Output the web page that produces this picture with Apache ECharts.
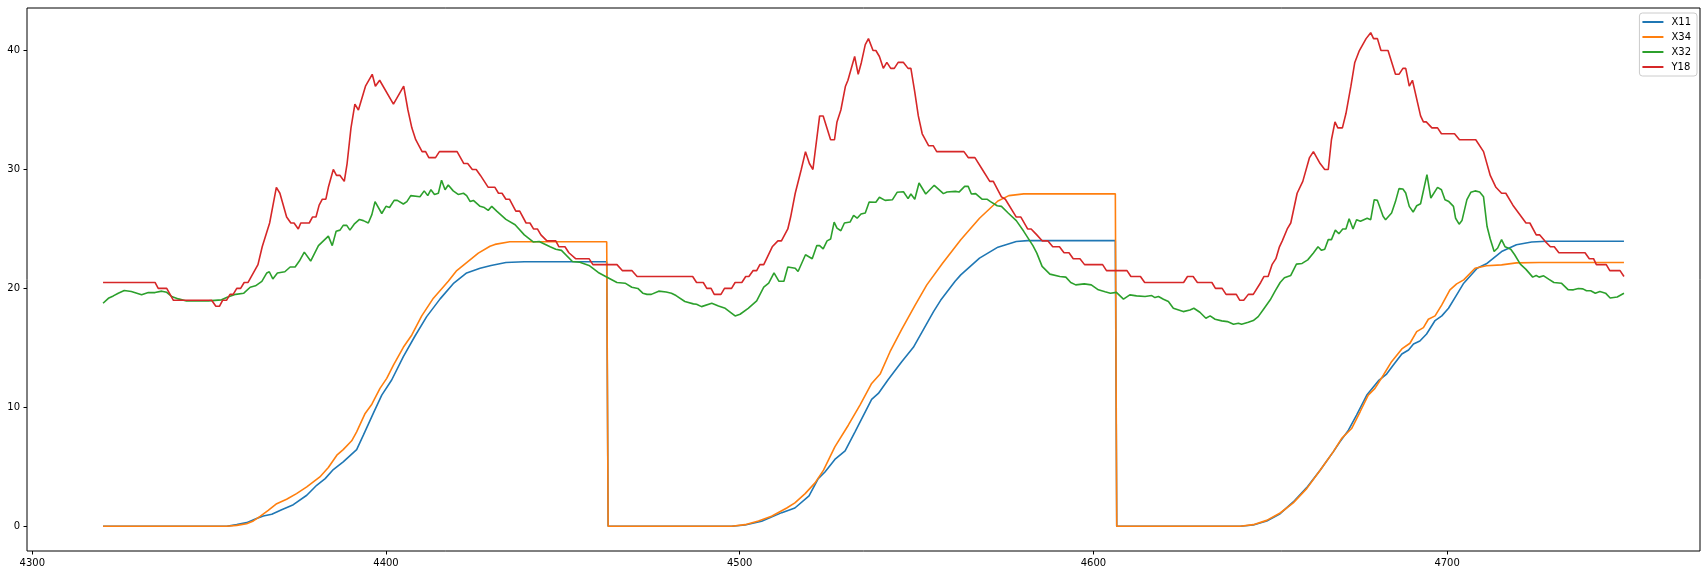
<!DOCTYPE html>
<html>
<head>
<meta charset="utf-8">
<script src="https://cdn.jsdelivr.net/npm/echarts@6/dist/echarts.min.js"></script>
<style>
html,body{margin:0;padding:0;background:#fff;}
#chart{width:1708px;height:575px;}
</style>
</head>
<body>
<div id="chart"></div>
<script>
const seriesNames = ['X11', 'X34', 'X32', 'Y18'];
const xTicks = [4300, 4400, 4500, 4600, 4700];
const yTicks = [0, 10, 20, 30, 40];

const x11 = [[4320,0],[4355,0],[4357.8,0.14],[4360.6,0.31],[4363.4,0.65],[4365.3,0.87],[4367.7,1.01],[4370.5,1.4],[4373.8,1.82],[4377.6,2.61],[4380.4,3.45],[4382.8,4.01],[4385.1,4.77],[4387.9,5.42],[4391.7,6.45],[4393.6,7.66],[4396.4,9.49],[4398.8,11.03],[4401.6,12.3],[4404.9,14.26],[4408.2,16.0],[4411.5,17.63],[4415.3,19.12],[4419,20.4],[4422.8,21.3],[4426.6,21.7],[4429.7,21.93],[4433.9,22.18],[4439.1,22.24],[4462.4,22.24],[4462.8,0],[4497.7,0],[4501.5,0.11],[4506.2,0.42],[4511.9,1.15],[4515.6,1.54],[4519.6,2.56],[4522.2,4.01],[4524.1,4.57],[4526.9,5.62],[4529.8,6.34],[4532.6,7.94],[4537.3,10.67],[4539.2,11.17],[4542,12.35],[4545.8,13.84],[4549.1,15.05],[4554.8,18.05],[4556.8,19.0],[4560.9,20.6],[4562.5,21.14],[4567.8,22.55],[4573,23.47],[4578.2,23.95],[4581.4,24.02],[4606.2,24.02],[4606.6,0],[4641.5,0],[4645.2,0.11],[4649,0.45],[4652.8,1.06],[4656.5,2.05],[4660.3,3.25],[4664.1,4.72],[4667.8,6.26],[4669.7,7.1],[4672.1,8.08],[4674.4,9.35],[4677.3,11.03],[4680.6,12.24],[4682.9,12.8],[4684.8,13.56],[4687.2,14.49],[4689.1,14.82],[4690.5,15.33],[4692.3,15.58],[4694.2,16.17],[4696.6,17.3],[4698.5,17.69],[4700.4,18.33],[4702.7,19.46],[4704.7,20.44],[4708.5,21.7],[4711.1,22.07],[4715.4,23.1],[4719.6,23.67],[4723.9,23.9],[4728.1,23.96],[4750,23.96]];

const x34 = [[4320,0],[4355,0],[4357.8,0.08],[4360.6,0.22],[4362.5,0.45],[4364.4,0.84],[4366.7,1.34],[4369.1,1.9],[4371.9,2.27],[4374.7,2.75],[4377.6,3.31],[4381.3,4.15],[4383.7,4.94],[4386.1,5.98],[4387.9,6.45],[4390.3,7.19],[4391.7,7.94],[4394.1,9.49],[4396,10.27],[4398.3,11.6],[4400.2,12.44],[4402.1,13.56],[4404.9,15.05],[4407.3,16.09],[4410.1,17.69],[4413.4,19.18],[4417.6,20.6],[4420,21.5],[4426.1,22.97],[4429.4,23.55],[4430.8,23.7],[4435,23.92],[4462.4,23.92],[4462.8,0],[4497.7,0],[4501.5,0.14],[4505.3,0.45],[4509,0.84],[4513.3,1.54],[4515.6,1.97],[4518.5,2.75],[4521.3,3.65],[4523.7,4.72],[4526.9,6.68],[4530.7,8.5],[4534,10.19],[4537.3,12.01],[4539.7,12.8],[4542.5,14.68],[4545.8,16.56],[4549.6,18.6],[4552.9,20.3],[4557.3,22.1],[4562.5,24.1],[4567.8,25.9],[4573,27.35],[4576.1,27.8],[4580.3,27.95],[4606.2,27.95],[4606.6,0],[4641.5,0],[4645.2,0.14],[4649,0.5],[4652.8,1.12],[4656.5,1.97],[4660.3,3.17],[4664.1,4.72],[4667.8,6.26],[4670.2,7.39],[4673,8.22],[4675.4,9.63],[4677.7,11.03],[4679.6,11.6],[4682,12.72],[4684.3,13.84],[4687.2,14.91],[4689.5,15.39],[4691.4,16.37],[4693.3,16.7],[4694.7,17.41],[4696.6,17.69],[4698.5,18.61],[4700.8,19.88],[4702.7,20.38],[4704.7,20.72],[4707.9,21.7],[4711.1,21.9],[4715.4,21.98],[4719.6,22.15],[4726,22.18],[4750,22.18]];

const x32 = [[4320,18.75],[4321.5,19.17],[4322.9,19.37],[4324.3,19.6],[4326,19.82],[4328,19.74],[4330.9,19.46],[4332.8,19.65],[4334.7,19.65],[4336.6,19.77],[4338,19.67],[4339.4,19.32],[4341.3,19.12],[4343.6,18.95],[4349.8,18.95],[4353.5,19.04],[4355.1,19.25],[4357.5,19.5],[4359.8,19.6],[4361.6,20.1],[4363.1,20.22],[4364.9,20.6],[4366.3,21.3],[4367,21.4],[4368,20.8],[4369.3,21.3],[4371.4,21.4],[4372.9,21.8],[4374.3,21.8],[4375.5,22.3],[4376.9,23.05],[4378.7,22.3],[4380.9,23.6],[4383.7,24.4],[4384.8,23.6],[4385.9,24.8],[4387,24.9],[4387.9,25.3],[4388.9,25.3],[4389.8,24.9],[4391,25.4],[4392.5,25.8],[4393.6,25.7],[4395,25.5],[4396,26.2],[4396.9,27.3],[4398.8,26.3],[4400,26.9],[4401,26.8],[4402.3,27.4],[4403.2,27.4],[4404.9,27.1],[4405.9,27.3],[4407,27.8],[4409.6,27.7],[4410.8,28.2],[4411.8,27.8],[4412.7,28.3],[4413.7,27.9],[4414.8,28.0],[4415.7,29.1],[4416.7,28.3],[4417.6,28.7],[4419,28.2],[4420.4,27.9],[4421.9,28.0],[4422.8,27.8],[4423.8,27.3],[4424.7,27.4],[4426.6,26.9],[4427.8,26.8],[4428.9,26.56],[4429.9,26.9],[4431.3,26.5],[4433.9,25.8],[4436.5,25.35],[4439.1,24.5],[4441.7,23.9],[4443.3,23.95],[4446.4,23.5],[4448,23.3],[4449.6,23.2],[4452.7,22.26],[4454.8,22.2],[4457.4,21.93],[4460,21.34],[4462.1,21.0],[4465.3,20.5],[4467.6,20.44],[4469.5,20.1],[4471.2,20.0],[4472.6,19.6],[4473.8,19.5],[4475,19.5],[4477.1,19.77],[4479.2,19.7],[4480.7,19.6],[4482,19.4],[4484.5,18.9],[4486.9,18.7],[4487.8,18.67],[4489.2,18.47],[4492.1,18.75],[4494,18.53],[4495.9,18.33],[4498.7,17.69],[4500.1,17.83],[4502.4,18.33],[4504.8,18.95],[4506.8,20.1],[4508.2,20.44],[4509.7,21.3],[4511.1,20.6],[4512.5,20.6],[4513.6,21.8],[4515.7,21.7],[4516.5,21.42],[4518.6,22.83],[4520.5,22.49],[4521.8,23.6],[4522.6,23.6],[4523.6,23.33],[4524.7,24.0],[4525.7,24.15],[4526.7,25.58],[4527.5,25.07],[4528.6,24.85],[4529.6,25.5],[4531.2,25.58],[4532.2,26.14],[4533.2,25.9],[4534.3,26.25],[4535.5,26.34],[4536.6,27.26],[4538.5,27.24],[4539.5,27.66],[4541.1,27.4],[4543.2,27.46],[4544.5,28.08],[4546.3,28.13],[4547.6,27.55],[4548.4,27.94],[4549.5,27.5],[4550.7,28.86],[4552.6,27.94],[4555,28.67],[4557.6,27.97],[4558.6,28.1],[4561,28.16],[4562,28.1],[4563.6,28.58],[4564.6,28.58],[4565.5,27.94],[4566.7,27.97],[4568.5,27.5],[4569.9,27.5],[4570.9,27.3],[4572.8,26.95],[4574,26.9],[4575.9,26.34],[4578.2,25.7],[4580.3,24.8],[4582.9,23.6],[4584,22.97],[4585.5,21.85],[4587.7,21.2],[4590.5,21.0],[4592.2,20.95],[4593.6,20.5],[4595,20.3],[4597.4,20.38],[4599.4,20.3],[4601.4,19.88],[4603.3,19.72],[4604.8,19.6],[4606.5,19.67],[4608.5,19.1],[4610.3,19.46],[4612.2,19.37],[4614.6,19.32],[4616.5,19.4],[4617.4,19.23],[4618.4,19.32],[4619.8,19.09],[4621.2,18.9],[4622.6,18.33],[4625.4,18.05],[4627.3,18.19],[4628.4,18.33],[4630.1,18.0],[4631.8,17.49],[4633,17.69],[4634.4,17.41],[4636.3,17.27],[4637.9,17.21],[4639.6,16.99],[4641,17.07],[4641.9,16.99],[4643.8,17.15],[4645.2,17.3],[4646.6,17.63],[4648.1,18.25],[4650,19.04],[4651.4,19.8],[4652.8,20.5],[4654,20.9],[4655.8,21.09],[4657.4,22.04],[4659,22.1],[4660.6,22.4],[4662.2,22.97],[4663.5,23.5],[4664.5,23.2],[4665.4,23.3],[4666.4,24.1],[4667.3,24.1],[4668.4,24.9],[4669.4,24.6],[4670.5,24.99],[4671.4,24.99],[4672.3,25.86],[4673.4,25.0],[4674.4,25.78],[4675.5,25.64],[4677.4,25.9],[4678.4,25.78],[4679.4,27.46],[4680.3,27.4],[4681.9,26.06],[4682.6,25.78],[4684.3,26.34],[4685.4,27.3],[4686.4,28.39],[4687.5,28.36],[4688.3,28.02],[4689.3,26.9],[4690.4,26.42],[4691.4,26.95],[4692.5,27.12],[4694.3,29.57],[4695.4,27.6],[4697.3,28.5],[4698.4,28.3],[4699.4,27.46],[4700.5,27.3],[4701.8,26.9],[4702.4,25.9],[4703.4,25.4],[4704.2,25.7],[4705.6,27.46],[4706.7,28.08],[4707.9,28.2],[4709.2,28.1],[4710.3,27.7],[4711.3,25.2],[4712.2,24.15],[4713.3,23.1],[4714.3,23.4],[4715.4,24.1],[4716.4,23.5],[4718,23.3],[4719.1,22.83],[4720.7,22.04],[4722.3,21.6],[4724.2,20.95],[4725.2,21.09],[4726,20.95],[4727.3,21.06],[4728.7,20.78],[4730.2,20.5],[4732.3,20.44],[4734.2,19.9],[4735.7,19.88],[4737.1,20.0],[4738.4,19.96],[4739.4,19.8],[4740.6,19.8],[4741.9,19.6],[4743.2,19.74],[4744.8,19.6],[4746.1,19.2],[4748.1,19.28],[4750,19.6]];

const y18 = [[4320,20.5],[4334.7,20.5],[4335.6,20],[4338,20],[4339.9,19],[4350.7,19],[4351.9,18.5],[4352.9,18.5],[4353.8,19],[4354.9,19],[4355.9,19.5],[4356.8,19.5],[4357.8,20],[4358.9,20],[4359.9,20.5],[4361,20.5],[4363.8,22],[4365,23.5],[4367.1,25.5],[4369,28.5],[4370,28],[4371.9,26],[4373.1,25.5],[4374,25.5],[4375.2,25],[4375.9,25.5],[4378.3,25.5],[4379.2,26],[4380.2,26],[4381.1,27],[4382,27.5],[4383,27.5],[4383.7,28.5],[4385.1,30],[4386,29.5],[4387,29.5],[4388.2,29],[4389,30.5],[4390.1,33.5],[4391.2,35.5],[4392.2,35],[4394.2,37],[4396.1,38],[4397,37],[4398.2,37.5],[4402.1,35.5],[4405,37],[4406.2,35],[4407.3,33.5],[4408.4,32.5],[4410.2,31.5],[4411.2,31.5],[4412.1,31],[4414,31],[4415.1,31.5],[4420.1,31.5],[4422,30.5],[4423.1,30.5],[4424.4,30],[4425.5,30],[4426.7,29.5],[4428.9,28.5],[4430.8,28.5],[4431.8,28],[4432.8,28],[4433.9,27.5],[4434.9,27.5],[4436.7,26.5],[4437.8,26.5],[4439.6,25.5],[4440.7,25.5],[4441.7,25],[4442.8,25],[4443.8,24.5],[4445.5,24],[4448,24],[4448.9,23.5],[4450.6,23.5],[4451.7,23],[4453.6,22.5],[4457.4,22.5],[4458.5,22],[4465.3,22],[4466.8,21.5],[4469.5,21.5],[4471,21],[4486.7,21],[4487.8,20.5],[4489.7,20.5],[4490.7,20],[4491.9,20],[4492.8,19.5],[4494.7,19.5],[4495.7,20],[4497.7,20],[4498.7,20.5],[4500.6,20.5],[4501.7,21],[4502.6,21],[4503.8,21.5],[4504.8,21.5],[4505.7,22],[4506.8,22],[4509.2,23.5],[4510.8,24],[4511.8,24],[4513.6,25],[4514.4,26],[4515.7,28],[4517.4,30],[4518.6,31.5],[4519.7,30.5],[4520.7,30],[4522.6,34.5],[4523.6,34.5],[4525.7,32.5],[4526.8,32.5],[4527.5,34],[4528.6,35],[4529.9,37],[4530.6,37.5],[4532.5,39.5],[4533.5,38],[4534.4,39],[4535.5,40.5],[4536.4,41],[4537.7,40],[4538.5,40],[4539.5,39.5],[4540.6,38.5],[4541.6,39],[4542.7,38.5],[4543.7,38.5],[4544.8,39],[4546.3,39],[4547.6,38.5],[4548.4,38.5],[4549.5,36.5],[4550.5,34.5],[4551.6,33],[4553.4,32],[4554.7,32],[4555.7,31.5],[4563.4,31.5],[4564.6,31],[4566.5,31],[4568.6,30],[4570.7,29],[4571.7,29],[4574,27.7],[4575.1,27.5],[4578.2,26],[4579.5,26],[4581.4,25],[4582.4,25],[4584,24.5],[4585.5,24],[4587.1,24],[4588.5,23.5],[4590.4,23.5],[4591.7,23],[4593.1,23],[4594.3,22.5],[4596.2,22.5],[4597.5,22],[4602.6,22],[4603.7,21.5],[4609.5,21.5],[4610.6,21],[4613.3,21],[4614.5,20.5],[4625.5,20.5],[4626.6,21],[4628.2,21],[4629.4,20.5],[4633.5,20.5],[4634.5,20],[4636.4,20],[4637.5,19.5],[4640.4,19.5],[4641.4,19],[4642.5,19],[4643.8,19.5],[4645.2,19.5],[4647.3,20.5],[4648.2,21],[4649.4,21],[4650.5,22],[4651.6,22.5],[4652.6,23.5],[4653.4,24],[4654.8,25],[4655.8,25.5],[4657.6,28],[4659.2,29],[4661.1,31],[4662.2,31.5],[4664.1,30.5],[4665.4,30],[4666.4,30],[4667.3,32.5],[4668.3,34],[4669.1,33.5],[4670.4,33.5],[4671.4,34.7],[4672.8,37],[4673.9,39],[4675.2,40],[4677.1,41],[4678.4,41.5],[4679.2,41],[4680.3,41],[4681.3,40],[4683.3,40],[4685.4,38],[4686.4,38],[4687.5,38.5],[4688.3,38.5],[4689.3,37],[4690.2,37.5],[4692.5,34.5],[4693.3,34],[4694.1,34],[4695.7,33.5],[4697.3,33.5],[4698.4,33],[4702.1,33],[4703.5,32.5],[4708.1,32.5],[4710.3,31.5],[4712.2,29.5],[4713.8,28.5],[4715.4,28],[4716.6,28],[4718.6,27],[4722.3,25.5],[4723.4,25.5],[4725.2,24.5],[4726.2,24.5],[4727.6,24],[4729.2,23.5],[4730.3,23.5],[4731.6,23],[4739,23],[4740.2,22.5],[4741.4,22.5],[4742.2,22],[4745,22],[4746,21.5],[4748.9,21.5],[4750,21]];

const colors = ['#1f77b4', '#ff7f0e', '#2ca02c', '#d62728'];
const allData = [x11, x34, x32, y18];

// matplotlib-like 5% margins
let xs = [], ys = [];
allData.forEach(d => d.forEach(p => { xs.push(p[0]); ys.push(p[1]); }));
const xMinD = Math.min(...xs), xMaxD = Math.max(...xs);
const yMinD = Math.min(...ys), yMaxD = Math.max(...ys);
const xPad = (xMaxD - xMinD) * 0.05, yPad = (yMaxD - yMinD) * 0.05;

const FONT = 'DejaVu Sans';
const chart = echarts.init(document.getElementById('chart'), null, {renderer: 'canvas'});
chart.setOption({
  animation: false,
  backgroundColor: '#ffffff',
  color: colors,
  grid: {left: 27, right: 8, top: 8, bottom: 24, show: true, borderColor: '#000', borderWidth: 1, backgroundColor: 'transparent'},
  legend: {
    orient: 'vertical', right: 11, top: 13,
    icon: 'rect', itemWidth: 21, itemHeight: 2, itemGap: 3,
    backgroundColor: 'rgba(255,255,255,0.8)', borderColor: '#cccccc', borderWidth: 1, borderRadius: 3,
    padding: [3, 6, 3, 3],
    textStyle: {fontFamily: FONT, fontSize: 10, color: '#000', lineHeight: 12, padding: [0, 0, 0, 3]},
    data: seriesNames
  },
  xAxis: {
    type: 'value', min: xMinD - xPad, max: xMaxD + xPad,
    splitLine: {show: false},
    axisLine: {show: false, onZero: false},
    axisTick: {show: true, length: 3.5, lineStyle: {color: '#000', width: 1}, customValues: xTicks},
    axisLabel: {show: true, margin: 7, color: '#000', fontFamily: FONT, fontSize: 10, customValues: xTicks, formatter: v => String(v)}
  },
  yAxis: {
    type: 'value', min: yMinD - yPad, max: yMaxD + yPad,
    splitLine: {show: false},
    axisLine: {show: false, onZero: false},
    axisTick: {show: true, length: 3.5, lineStyle: {color: '#000', width: 1}, customValues: yTicks},
    axisLabel: {show: true, margin: 7, color: '#000', fontFamily: FONT, fontSize: 10, customValues: yTicks, formatter: v => String(v)}
  },
  series: seriesNames.map((name, i) => ({
    name: name, type: 'line', data: allData[i],
    showSymbol: false, symbol: 'none',
    lineStyle: {width: 1.6, color: colors[i]},
    itemStyle: {color: colors[i]},
    emphasis: {disabled: true}
  }))
});
</script>
</body>
</html>
